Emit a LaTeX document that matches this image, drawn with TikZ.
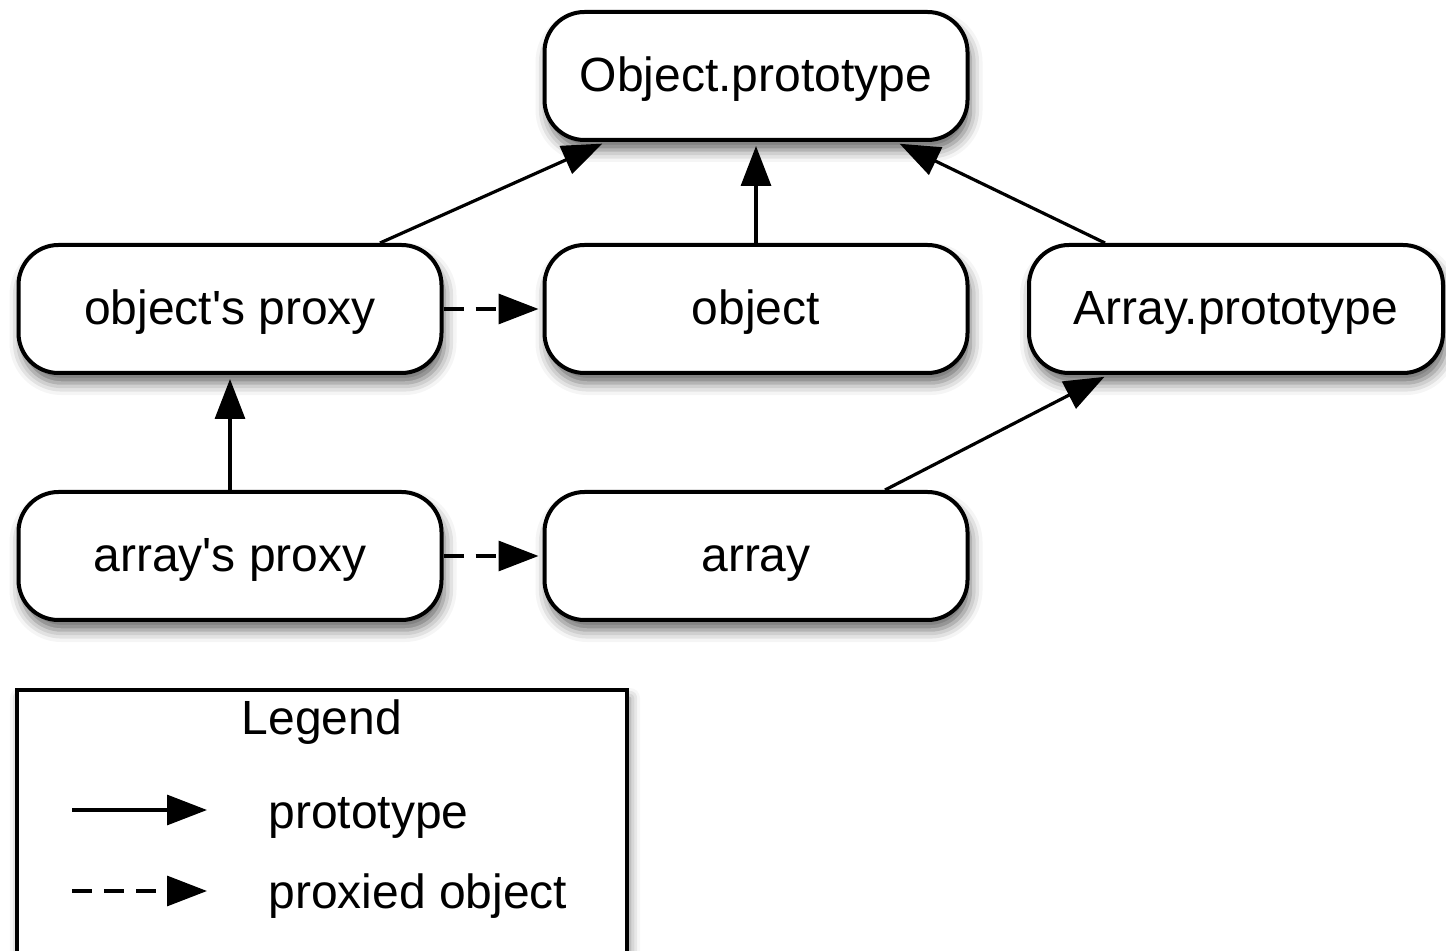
\documentclass[tikz,border=0pt]{standalone}
\usepackage{fontspec}
\setmainfont{Liberation Sans}
\usetikzlibrary{arrows.meta,positioning,shadows.blur}

\begin{document}
\begin{tikzpicture}[>={Triangle[length=20pt,width=15pt]}, node distance=116.5pt]
	\tikzstyle{box} = [draw, line width=2pt, rounded corners=20pt, minimum width=211.5pt, minimum height=64pt, text height=18pt, text depth=2pt, fill=white, font=\fontsize{24}{28}\selectfont, blur shadow={shadow xshift=1.5pt, shadow yshift=-5pt, shadow blur radius=6pt, shadow opacity=60}]
	\tikzstyle{proto} = [->, line width=1.6pt, shorten >=2pt]
	\tikzstyle{proxied} = [proto, dash pattern=on 10pt off 6pt]
	\tikzstyle{legtext} = [font=\fontsize{24}{28}\selectfont, inner sep=0pt]

	\clip (0,0) rectangle (723pt,-475.5pt);

	\begin{scope}
	\path
	node[box] (Oproto) at (378pt,-38pt) {Object.prototype}
	node[box, below of=Oproto] (obj) {object}
	node[box, left of=obj, node distance=263pt] (objproxy) {object\textquotesingle s proxy}
	node[box, right of=obj, node distance=240pt, minimum width=207pt] (Aproto) {Array.prototype}
	node[box, below of=obj, node distance=123.5pt] (arr) {array}
	node[box, left of=arr, node distance=263pt] (arrproxy) {array\textquotesingle s proxy}
	;

	% prototype links
	\draw[proto] ([xshift=75pt]objproxy.north) -- ([xshift=-75pt]Oproto.south);
	\draw[proto] (obj) -- (Oproto);
	\draw[proto] ([xshift=-65.5pt]Aproto.north) -- ([xshift=70pt]Oproto.south);
	\draw[proto] (arrproxy) -- (objproxy);
	\draw[proto] ([xshift=64.5pt]arr.north) -- ([xshift=-64pt]Aproto.south);

	% proxied links
	\draw[proxied] (objproxy) -- (obj);
	\draw[proxied] (arrproxy) -- (arr);
	\end{scope}

	% legend
	\begin{scope}
	\node[draw, line width=1.75pt, fill=white, minimum width=305pt, minimum height=155pt, inner sep=0pt, blur shadow={shadow xshift=1.5pt, shadow yshift=-4pt, shadow blur radius=5pt, shadow opacity=50}] (legend) at (161pt,-422.5pt) {};
	\node[legtext, anchor=base] (legtitle) at (161pt,-367pt) {Legend};
	\coordinate (lp1) at (36pt,-405pt);
	\coordinate (lp2) at (103.5pt,-405pt);
	\coordinate (lx1) at (36pt,-445.5pt);
	\coordinate (lx2) at (103.5pt,-445.5pt);
	\node[legtext, anchor=base west] (lptext) at (134pt,-414pt) {prototype};
	\node[legtext, anchor=base west] (lxtext) at (134pt,-454pt) {proxied object};
	\draw[proto, shorten >=0pt] (lp1) -- (lp2);
	\draw[proxied, shorten >=0pt] (lx1) -- (lx2);
	\end{scope}
\end{tikzpicture}
\end{document}
